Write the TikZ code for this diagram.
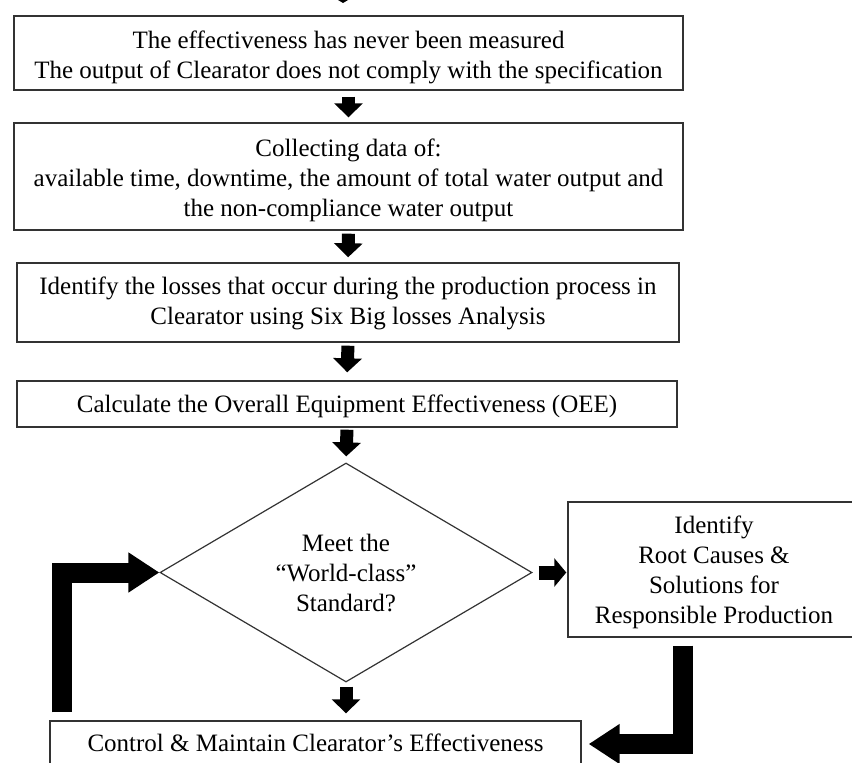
\documentclass[tikz,border=0pt]{standalone}
\usepackage{fontspec}
\setmainfont{Liberation Serif}
\usetikzlibrary{arrows.meta,shapes.geometric}
\newcommand{\lowtext}[2][3pt]{\raisebox{-#1}[\height][\depth]{\begin{tabular}{@{}c@{}}#2\end{tabular}}}
\begin{document}
\begin{tikzpicture}[x=1pt,y=-1pt,
  every node/.style={font=\fontsize{25}{30}\selectfont, align=center, inner sep=0pt},
  procbox/.style={draw=black!80, line width=1.4pt, rectangle},
  decis/.style={draw=black!80, line width=1.2pt, diamond},
  blockarrow/.style={line width=13pt, -{Triangle[width=28pt,length=14pt]}},
  sidearrow/.style={line width=14pt, -{Triangle[width=28pt,length=12pt]}},
  bigarrow/.style={line width=20pt, -{Triangle[width=38pt,length=31pt]}},
]
\useasboundingbox (0,0) rectangle (852,763);

\node[procbox, minimum width=669, minimum height=74] (b1) at (348.5,53)
  {\lowtext[4pt]{The effectiveness has never been measured\\The output of Clearator does not comply with the specification}};
\node[procbox, minimum width=669, minimum height=107] (b2) at (348.5,176.5)
  {\lowtext[4pt]{Collecting data of:\\available time, downtime, the amount of total water output and\\the non-compliance water output}};
\node[procbox, minimum width=662, minimum height=79] (b3) at (348,302.5)
  {\lowtext[1pt]{Identify the losses that occur during the production process in\\Clearator using Six Big losses Analysis}};
\node[procbox, minimum width=660, minimum height=46] (b4) at (347,404)
  {\lowtext[2pt]{Calculate the Overall Equipment Effectiveness (OEE)}};
\node[decis, minimum width=372, minimum height=219] (dia) at (346,572.5)
  {Meet the\\“World-class”\\Standard?};
\node[procbox, minimum width=292, minimum height=135] (rbox) at (714,569.5)
  {\lowtext[3pt]{Identify\\Root Causes \&\\Solutions for\\Responsible Production}};
\node[procbox, minimum width=531, minimum height=46] (bot) at (315.5,744)
  {\lowtext[1pt]{Control \& Maintain Clearator’s Effectiveness}};

\fill (338,0) -- (348,0) -- (343,3) -- cycle;

\draw[blockarrow, shorten <=6pt, shorten >=5pt] (b1.south) -- (b2.north);
\draw[blockarrow, shorten <=3pt, shorten >=5pt] (b2.south) -- (b3.north);
\draw[blockarrow, shorten <=3pt, shorten >=8pt] (b3.south) -- (b4.north);
\draw[blockarrow, shorten <=2pt, shorten >=6pt] (b4.south) -- (dia.north);
\draw[blockarrow, shorten <=4pt, shorten >=7pt] (dia.south) -- (dia.south |- bot.north);
\draw[sidearrow, shorten <=6pt, shorten >=1pt] (dia.east) -- (dia.east -| rbox.west);
\draw[bigarrow, shorten <=8pt] ([xshift=13pt]bot.north west) |- (dia.west);
\draw[bigarrow, shorten <=8pt, shorten >=7pt] ([xshift=-31pt]rbox.south) |- (bot.east);
\end{tikzpicture}
\end{document}
